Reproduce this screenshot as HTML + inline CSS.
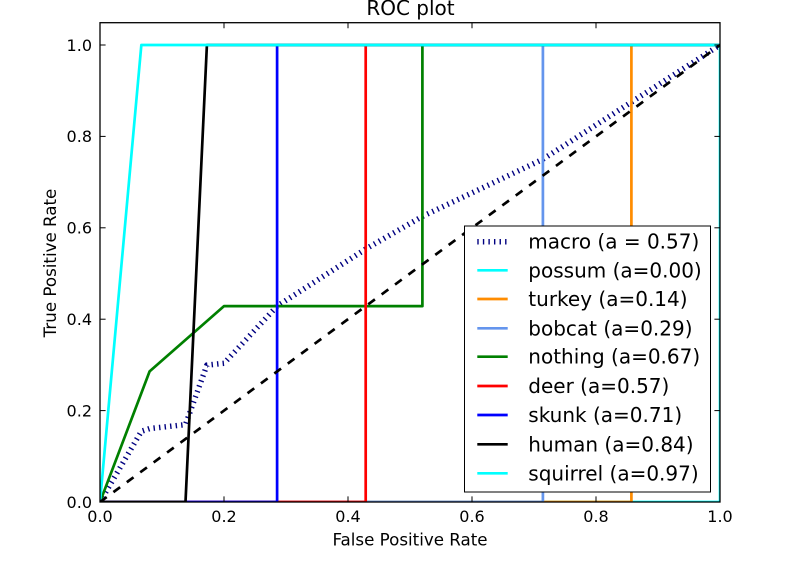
<!DOCTYPE html>
<html>
<head>
<meta charset="utf-8">
<style>
html,body{margin:0;padding:0;background:#fff;}
svg{display:block;}
text{font-family:"DejaVu Sans","Liberation Sans",sans-serif;fill:#000;}
</style>
</head>
<body>
<svg width="800" height="562" viewBox="0 0 800 562" xmlns="http://www.w3.org/2000/svg">
<defs>
<clipPath id="ax"><rect x="100" y="22.7" width="620" height="479.3"/></clipPath>
</defs>
<rect x="0" y="0" width="800" height="562" fill="#fff"/>

<g clip-path="url(#ax)" fill="none" stroke-linejoin="round">
  <polyline stroke="#000080" stroke-width="5.5" stroke-dasharray="1.39 4.17" stroke-linecap="butt"
    points="100,502 141.35,431.3 149.6,428.6 185.5,424.6 206.9,365.1 224,363.3 277.1,306.1 365.7,249 422.4,216.4 542.9,159.25 631.4,102.1 720,45"/>
  <polyline stroke="#00ffff" stroke-width="2.7" points="100,502 720,502 720,45"/>
  <polyline stroke="#ff8c00" stroke-width="2.7" points="100,502 631.4,502 631.4,45 720,45"/>
  <polyline stroke="#6495ed" stroke-width="2.7" points="100,502 542.9,502 542.9,45 720,45"/>
  <polyline stroke="#008000" stroke-width="2.7" points="100,502 149.6,371.4 224,306.1 422.4,306.1 422.4,45 720,45"/>
  <polyline stroke="#ff0000" stroke-width="2.7" points="100,502 365.7,502 365.7,45 720,45"/>
  <polyline stroke="#0000ff" stroke-width="2.7" points="100,502 277.1,502 277.1,45 720,45"/>
  <polyline stroke="#000000" stroke-width="2.7" points="100,502 185.5,502 206.9,45 720,45"/>
  <polyline stroke="#00ffff" stroke-width="2.7" points="100,502 141.35,45 720,45"/>
  <line x1="100" y1="502" x2="720" y2="45" stroke="#000" stroke-width="2.7" stroke-dasharray="8.33 8.33" stroke-linecap="butt"/>
</g>

<rect x="100" y="22.7" width="620" height="479.3" fill="none" stroke="#000" stroke-width="1.3"/>

<g stroke="#000" stroke-width="1">
  <line x1="224" y1="502" x2="224" y2="496.4"/><line x1="348" y1="502" x2="348" y2="496.4"/>
  <line x1="472" y1="502" x2="472" y2="496.4"/><line x1="596" y1="502" x2="596" y2="496.4"/>
  <line x1="224" y1="22.7" x2="224" y2="28.3"/><line x1="348" y1="22.7" x2="348" y2="28.3"/>
  <line x1="472" y1="22.7" x2="472" y2="28.3"/><line x1="596" y1="22.7" x2="596" y2="28.3"/>
  <line x1="100" y1="410.6" x2="105.6" y2="410.6"/><line x1="100" y1="319.2" x2="105.6" y2="319.2"/>
  <line x1="100" y1="227.8" x2="105.6" y2="227.8"/><line x1="100" y1="136.4" x2="105.6" y2="136.4"/>
  <line x1="100" y1="45" x2="105.6" y2="45"/>
  <line x1="720" y1="410.6" x2="714.4" y2="410.6"/><line x1="720" y1="319.2" x2="714.4" y2="319.2"/>
  <line x1="720" y1="227.8" x2="714.4" y2="227.8"/><line x1="720" y1="136.4" x2="714.4" y2="136.4"/>
  <line x1="720" y1="45" x2="714.4" y2="45"/>
</g>

<g font-size="16" text-anchor="middle">
  <text x="100" y="522">0.0</text>
  <text x="224" y="522">0.2</text>
  <text x="348" y="522">0.4</text>
  <text x="472" y="522">0.6</text>
  <text x="596" y="522">0.8</text>
  <text x="720" y="522">1.0</text>
</g>
<g font-size="16" text-anchor="end">
  <text x="92" y="507.8">0.0</text>
  <text x="92" y="416.4">0.2</text>
  <text x="92" y="325">0.4</text>
  <text x="92" y="233.6">0.6</text>
  <text x="92" y="142.2">0.8</text>
  <text x="92" y="50.8">1.0</text>
</g>

<text x="410" y="545.7" font-size="16.7" text-anchor="middle">False Positive Rate</text>
<text transform="translate(56,263) rotate(-90)" font-size="16.7" text-anchor="middle">True Positive Rate</text>
<text x="410.5" y="15" font-size="20" text-anchor="middle">ROC plot</text>

<rect x="464.5" y="226" width="246" height="266" fill="#fff" stroke="#000" stroke-width="1"/>
<g fill="none">
  <line x1="477.3" y1="241.7" x2="507.7" y2="241.7" stroke="#000080" stroke-width="5.5" stroke-dasharray="1.39 4.17"/>
  <line x1="477.3" y1="270.3" x2="507.7" y2="270.3" stroke="#00ffff" stroke-width="2.7"/>
  <line x1="477.3" y1="299" x2="507.7" y2="299" stroke="#ff8c00" stroke-width="2.7"/>
  <line x1="477.3" y1="328.3" x2="507.7" y2="328.3" stroke="#6495ed" stroke-width="2.7"/>
  <line x1="477.3" y1="356.7" x2="507.7" y2="356.7" stroke="#008000" stroke-width="2.7"/>
  <line x1="477.3" y1="386" x2="507.7" y2="386" stroke="#ff0000" stroke-width="2.7"/>
  <line x1="477.3" y1="415" x2="507.7" y2="415" stroke="#0000ff" stroke-width="2.7"/>
  <line x1="477.3" y1="444.3" x2="507.7" y2="444.3" stroke="#000000" stroke-width="2.7"/>
  <line x1="477.3" y1="473.3" x2="507.7" y2="473.3" stroke="#00ffff" stroke-width="2.7"/>
</g>
<g font-size="20">
  <text x="528.3" y="248.7">macro (a = 0.57)</text>
  <text x="528.3" y="277.3">possum (a=0.00)</text>
  <text x="528.3" y="306">turkey (a=0.14)</text>
  <text x="528.3" y="335.3">bobcat (a=0.29)</text>
  <text x="528.3" y="363.7">nothing (a=0.67)</text>
  <text x="528.3" y="393">deer (a=0.57)</text>
  <text x="528.3" y="422">skunk (a=0.71)</text>
  <text x="528.3" y="451.3">human (a=0.84)</text>
  <text x="528.3" y="480.3">squirrel (a=0.97)</text>
</g>
</svg>
</body>
</html>
